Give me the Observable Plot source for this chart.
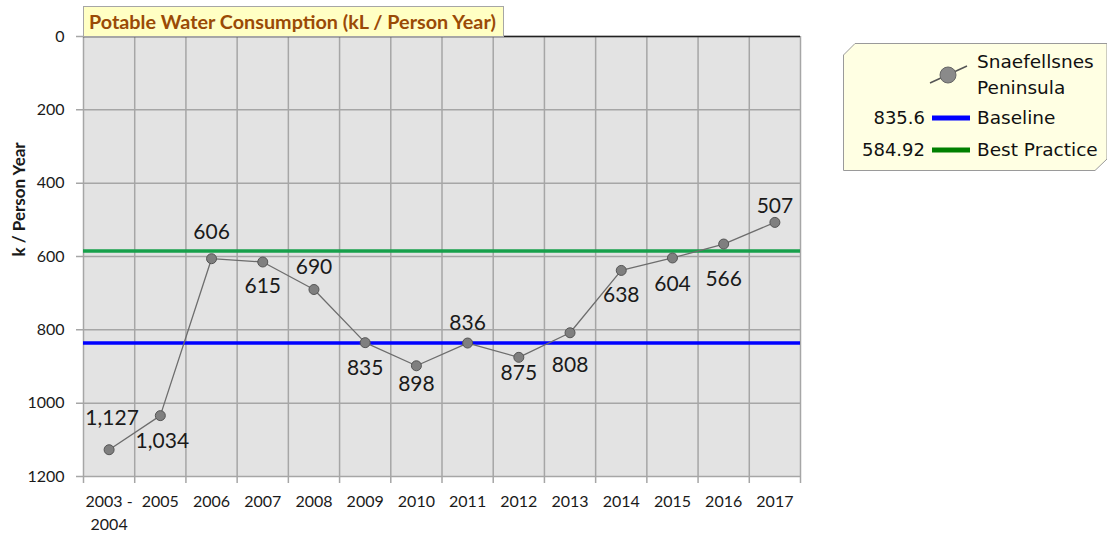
<!DOCTYPE html>
<html><head><meta charset="utf-8">
<script src="https://cdn.jsdelivr.net/npm/d3@7"></script>
<script src="https://cdn.jsdelivr.net/npm/@observablehq/plot@0.6"></script>
<style>
body{margin:0;background:#fff;}
#wrap{position:relative;width:1107px;height:533px;overflow:hidden;font-family:Lato,sans-serif;}
#chart{position:absolute;left:0;top:0;}
#title{position:absolute;left:83px;top:6px;width:421px;height:31px;background:#ffffc4;border:1px solid #a6a6a6;box-sizing:border-box;color:#9a4a06;font-weight:bold;font-size:19.8px;line-height:28px;padding-left:5px;white-space:nowrap;}
#legend{position:absolute;left:843px;top:43px;}
</style></head><body>
<div id="wrap"><div id="chart"></div><div id="title"></div><svg id="legend" width="264" height="128"></svg></div>
<script>
const titleText = "Potable Water Consumption (kL / Person Year)";
const yLabel = "k / Person Year";
const categories = ["2003 - 2004","2005","2006","2007","2008","2009","2010","2011","2012","2013","2014","2015","2016","2017"];
const values = [1127,1034,606,615,690,835,898,836,875,808,638,604,566,507];
const yTicks = [0,200,400,600,800,1000,1200];
const seriesName = ["Snaefellsnes","Peninsula"];
const refNames = ["Baseline","Best Practice"];
const refValues = [835.6,584.92];
// data-label placement (pixel offsets from each point)
const labelDx = [3,2,0,0,0,0,0,0,0,0,0,0,0,0];
const labelDy = [-31,26,-26,24,-22,26,18,-20,16,32,25,26,35,-16];

const fmt = d3.format(",");
const data = values.map((v,i)=>({x:i+0.5, v, label:fmt(v), dx:labelDx[i], dy:labelDy[i]}));
const refColors = ["#0000ff","#17a04b"];
const grid = "#a6a6a6";

const plot = Plot.plot({
  width: 820, height: 533,
  marginLeft: 83, marginRight: 20, marginTop: 36, marginBottom: 57,
  style: {fontFamily: "Lato, sans-serif", background: "transparent", color:"#1a1a1a"},
  x: {type: "linear", domain: [0, categories.length]},
  y: {domain: [0, 1200], reverse: true},
  marks: [
    Plot.frame({fill: "#e3e3e3", stroke: null}),
    Plot.ruleX(d3.range(categories.length + 1), {stroke: grid, strokeWidth: 1.5, insetBottom: -7}),
    Plot.ruleY(yTicks, {stroke: grid, strokeWidth: 1.5, insetLeft: -7}),
    Plot.ruleY([0], {stroke: "#222", strokeWidth: 1.5}),
    Plot.ruleY([refValues[1]], {stroke: refColors[1], strokeWidth: 3.5}),
    Plot.ruleY([refValues[0]], {stroke: refColors[0], strokeWidth: 3.5}),
    Plot.line(data, {x: "x", y: "v", stroke: "#6d6d6d", strokeWidth: 1.3}),
    Plot.dot(data, {x: "x", y: "v", r: 5, fill: "#7f7f7f", stroke: "#555", strokeWidth: 1}),
    ...data.map(d => Plot.text([d], {x:"x", y:"v", text:"label", dx:d.dx, dy:d.dy, fontSize:21})),
    Plot.axisY({ticks: yTicks, tickFormat: d => String(d), tickSize: 0, tickPadding: 19, fontSize: 16, label: null}),
    Plot.axisX({ticks: categories.map((d,i)=>i+0.5), tickFormat: d => categories[Math.floor(d)].replace(" - ", " -\n"),
                tickSize: 0, tickPadding: 14, fontSize: 16, lineHeight: 1.45, label: null}),
    Plot.text([yLabel], {frameAnchor: "left", rotate: -90, dx: -64, fontWeight: "bold", fontSize: 17, text: d=>d})
  ]
});
document.getElementById("chart").appendChild(plot);
document.getElementById("title").textContent = titleText;

// legend
const lg = d3.select("#legend");
lg.append("path").attr("d","M0.5,12 L12,0.5 H264 V116 L252,127.5 H0.5 Z").attr("fill","#ffffe3").attr("stroke","#9a9a9a");
lg.append("line").attr("x1",87).attr("y1",40).attr("x2",124).attr("y2",23).attr("stroke","#555").attr("stroke-width",1.5);
lg.append("circle").attr("cx",105).attr("cy",32).attr("r",8).attr("fill","#8a8a8a").attr("stroke","#666");
const tf = "'DejaVu Sans', sans-serif";
seriesName.forEach((s,i)=>lg.append("text").attr("x",134).attr("y",25+i*26).attr("font-family",tf).attr("font-size",18.5).attr("fill","#111").text(s));
refNames.forEach((s,i)=>{
  const y = 75 + i*32;
  lg.append("text").attr("x",82).attr("y",y+6).attr("text-anchor","end").attr("font-family",tf).attr("font-size",18).attr("fill","#111").text(refValues[i]);
  lg.append("line").attr("x1",89).attr("x2",127).attr("y1",y).attr("y2",y).attr("stroke",i===0?"#0000ff":"#008000").attr("stroke-width",5);
  lg.append("text").attr("x",134).attr("y",y+6).attr("font-family",tf).attr("font-size",18.5).attr("fill","#111").text(s);
});
</script>
</body></html>
